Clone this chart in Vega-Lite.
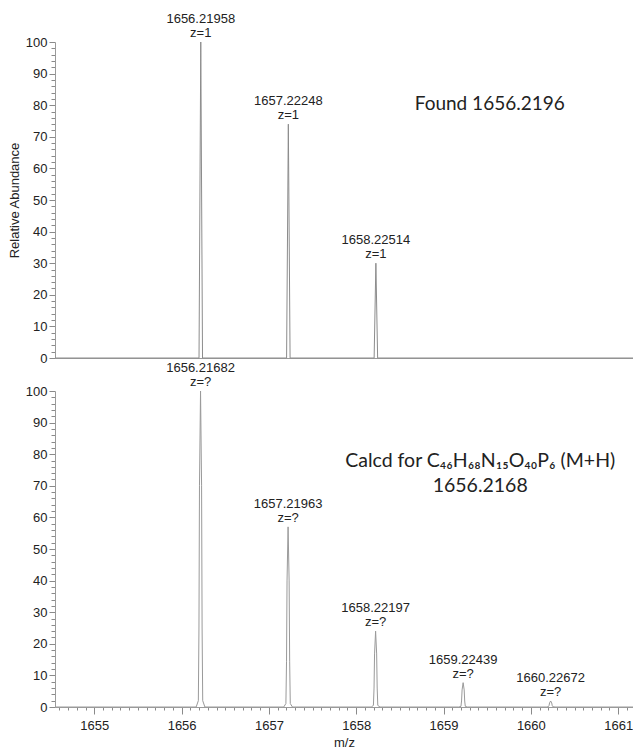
{
  "$schema": "https://vega.github.io/schema/vega-lite/v6.json",
  "padding": {"left": 8, "top": 13, "right": 0, "bottom": 0},
  "background": "white",
  "config": {
    "view": {"stroke": null},
    "font": "Liberation Sans",
    "axis": {
      "grid": false,
      "domainColor": "#9a9a9a",
      "tickColor": "#8a8a8a",
      "labelColor": "#222222",
      "labelFont": "Liberation Sans",
      "labelFontSize": 13,
      "titleFont": "Liberation Sans",
      "titleFontSize": 13,
      "titleFontWeight": "normal",
      "titleColor": "#222222",
      "labelOverlap": false,
      "labelFlush": false,
      "tickCount": 500
    }
  },
  "datasets": {
    "found": [
      {"mz": 1654.55, "abundance": 0},
      {"mz": 1656.19958, "abundance": 0},
      {"mz": 1656.21958, "abundance": 100},
      {"mz": 1656.23958, "abundance": 0},
      {"mz": 1657.20248, "abundance": 0},
      {"mz": 1657.22248, "abundance": 74},
      {"mz": 1657.24248, "abundance": 0},
      {"mz": 1658.20514, "abundance": 0},
      {"mz": 1658.22514, "abundance": 30},
      {"mz": 1658.24514, "abundance": 0},
      {"mz": 1661.17, "abundance": 0}
    ],
    "calcd": [
      {"mz": 1654.55, "abundance": 0},
      {"mz": 1656.16682, "abundance": 0},
      {"mz": 1656.19182, "abundance": 2},
      {"mz": 1656.19882, "abundance": 25},
      {"mz": 1656.20482, "abundance": 70},
      {"mz": 1656.21682, "abundance": 100},
      {"mz": 1656.22882, "abundance": 70},
      {"mz": 1656.23482, "abundance": 25},
      {"mz": 1656.24182, "abundance": 2},
      {"mz": 1656.26682, "abundance": 0},
      {"mz": 1657.16963, "abundance": 0},
      {"mz": 1657.19463, "abundance": 1.1},
      {"mz": 1657.20163, "abundance": 14.3},
      {"mz": 1657.20763, "abundance": 39.9},
      {"mz": 1657.21963, "abundance": 57},
      {"mz": 1657.23163, "abundance": 39.9},
      {"mz": 1657.23763, "abundance": 14.3},
      {"mz": 1657.24463, "abundance": 1.1},
      {"mz": 1657.26963, "abundance": 0},
      {"mz": 1658.17197, "abundance": 0},
      {"mz": 1658.19697, "abundance": 0.5},
      {"mz": 1658.20397, "abundance": 6},
      {"mz": 1658.20997, "abundance": 16.8},
      {"mz": 1658.22197, "abundance": 24},
      {"mz": 1658.23397, "abundance": 16.8},
      {"mz": 1658.23997, "abundance": 6},
      {"mz": 1658.24697, "abundance": 0.5},
      {"mz": 1658.27197, "abundance": 0},
      {"mz": 1659.17439, "abundance": 0},
      {"mz": 1659.19939, "abundance": 0.2},
      {"mz": 1659.20639, "abundance": 1.9},
      {"mz": 1659.21239, "abundance": 5.4},
      {"mz": 1659.22439, "abundance": 7.7},
      {"mz": 1659.23639, "abundance": 5.4},
      {"mz": 1659.24239, "abundance": 1.9},
      {"mz": 1659.24939, "abundance": 0.2},
      {"mz": 1659.27439, "abundance": 0},
      {"mz": 1660.17672, "abundance": 0},
      {"mz": 1660.20172, "abundance": 0.1},
      {"mz": 1660.20872, "abundance": 0.5},
      {"mz": 1660.21472, "abundance": 1.3},
      {"mz": 1660.22672, "abundance": 1.9},
      {"mz": 1660.23872, "abundance": 1.3},
      {"mz": 1660.24472, "abundance": 0.5},
      {"mz": 1660.25172, "abundance": 0.1},
      {"mz": 1660.27672, "abundance": 0},
      {"mz": 1661.17, "abundance": 0}
    ],
    "foundPeaks": [
      {"mz": 1656.21958, "abundance": 100, "label": "1656.21958\nz=1"},
      {"mz": 1657.22248, "abundance": 74, "label": "1657.22248\nz=1"},
      {"mz": 1658.22514, "abundance": 30, "label": "1658.22514\nz=1"}
    ],
    "calcdPeaks": [
      {"mz": 1656.21682, "abundance": 100, "label": "1656.21682\nz=?"},
      {"mz": 1657.21963, "abundance": 57, "label": "1657.21963\nz=?"},
      {"mz": 1658.22197, "abundance": 24, "label": "1658.22197\nz=?"},
      {"mz": 1659.22439, "abundance": 7.7, "label": "1659.22439\nz=?"},
      {"mz": 1660.22672, "abundance": 1.9, "label": "1660.22672\nz=?"}
    ]
  },
  "spacing": 33,
  "bounds": "flush",
  "vconcat": [
    {
      "width": 578,
      "height": 316,
      "layer": [
        {
          "data": {"name": "found"},
          "mark": {"type": "line", "stroke": "#8c8c8c", "strokeWidth": 1, "interpolate": "linear"},
          "encoding": {
            "x": {
              "field": "mz", "type": "quantitative",
              "scale": {"domain": [1654.55, 1661.17], "nice": false, "zero": false},
              "axis": {"title": null, "labels": false, "ticks": false}
            },
            "y": {
              "field": "abundance", "type": "quantitative",
              "scale": {"domain": [0, 100], "nice": false},
              "axis": {
                "title": "Relative Abundance",
                "titlePadding": 4,
                "values": [0, 2, 4, 6, 8, 10, 12, 14, 16, 18, 20, 22, 24, 26, 28, 30, 32, 34, 36, 38, 40, 42, 44, 46, 48, 50, 52, 54, 56, 58, 60, 62, 64, 66, 68, 70, 72, 74, 76, 78, 80, 82, 84, 86, 88, 90, 92, 94, 96, 98, 100],
                "labelExpr": "datum.value % 10 === 0 ? format(datum.value, 'd') : ''",
                "tickSize": {"condition": {"test": "datum.value % 10 === 0", "value": 6}, "value": 4},
                "labelPadding": 2
              }
            }
          }
        },
        {
          "data": {"name": "foundPeaks"},
          "mark": {"type": "text", "baseline": "bottom", "align": "center", "dy": -16, "lineBreak": "\n", "lineHeight": 14, "fontSize": 13, "color": "#222222"},
          "encoding": {
            "x": {"field": "mz", "type": "quantitative"},
            "y": {"field": "abundance", "type": "quantitative"},
            "text": {"field": "label", "type": "nominal"}
          }
        },
        {
          "data": {"values": [{}]},
          "mark": {"type": "text", "align": "left", "baseline": "middle", "font": "Lato", "fontSize": 19, "color": "#222222"},
          "encoding": {
            "x": {"datum": 1658.67},
            "y": {"datum": 80.5},
            "text": {"value": "Found 1656.2196"}
          }
        }
      ]
    },
    {
      "width": 578,
      "height": 316,
      "layer": [
        {
          "data": {"name": "calcd"},
          "mark": {"type": "line", "stroke": "#9a9a9a", "strokeWidth": 1, "interpolate": "linear"},
          "encoding": {
            "x": {
              "field": "mz", "type": "quantitative",
              "scale": {"domain": [1654.55, 1661.17], "nice": false, "zero": false},
              "axis": {
                "title": "m/z",
                "titlePadding": 4,
                "values": [1654.6, 1654.7, 1654.8, 1654.9, 1655, 1655.1, 1655.2, 1655.3, 1655.4, 1655.5, 1655.6, 1655.7, 1655.8, 1655.9, 1656, 1656.1, 1656.2, 1656.3, 1656.4, 1656.5, 1656.6, 1656.7, 1656.8, 1656.9, 1657, 1657.1, 1657.2, 1657.3, 1657.4, 1657.5, 1657.6, 1657.7, 1657.8, 1657.9, 1658, 1658.1, 1658.2, 1658.3, 1658.4, 1658.5, 1658.6, 1658.7, 1658.8, 1658.9, 1659, 1659.1, 1659.2, 1659.3, 1659.4, 1659.5, 1659.6, 1659.7, 1659.8, 1659.9, 1660, 1660.1, 1660.2, 1660.3, 1660.4, 1660.5, 1660.6, 1660.7, 1660.8, 1660.9, 1661, 1661.1],
                "labelExpr": "abs(datum.value - round(datum.value)) < 0.01 ? format(datum.value, 'd') : ''",
                "tickSize": {"condition": {"test": "abs(datum.value - round(datum.value)) < 0.01", "value": 7}, "value": 3},
                "labelPadding": 5
              }
            },
            "y": {
              "field": "abundance", "type": "quantitative",
              "scale": {"domain": [0, 100], "nice": false},
              "axis": {
                "title": null,
                "values": [0, 2, 4, 6, 8, 10, 12, 14, 16, 18, 20, 22, 24, 26, 28, 30, 32, 34, 36, 38, 40, 42, 44, 46, 48, 50, 52, 54, 56, 58, 60, 62, 64, 66, 68, 70, 72, 74, 76, 78, 80, 82, 84, 86, 88, 90, 92, 94, 96, 98, 100],
                "labelExpr": "datum.value % 10 === 0 ? format(datum.value, 'd') : ''",
                "tickSize": {"condition": {"test": "datum.value % 10 === 0", "value": 6}, "value": 4},
                "labelPadding": 2
              }
            }
          }
        },
        {
          "data": {"name": "calcdPeaks"},
          "mark": {"type": "text", "baseline": "bottom", "align": "center", "dy": -16, "lineBreak": "\n", "lineHeight": 14, "fontSize": 13, "color": "#222222"},
          "encoding": {
            "x": {"field": "mz", "type": "quantitative"},
            "y": {"field": "abundance", "type": "quantitative"},
            "text": {"field": "label", "type": "nominal"}
          }
        },
        {
          "data": {"values": [{}]},
          "mark": {"type": "text", "align": "center", "baseline": "middle", "font": "Lato", "fontSize": 19.5, "lineHeight": 25, "lineBreak": "\n", "color": "#222222"},
          "encoding": {
            "x": {"datum": 1659.42},
            "y": {"datum": 78},
            "text": {"value": "Calcd for C₄₆H₆₈N₁₅O₄₀P₆ (M+H)\n1656.2168"}
          }
        }
      ]
    }
  ]
}
